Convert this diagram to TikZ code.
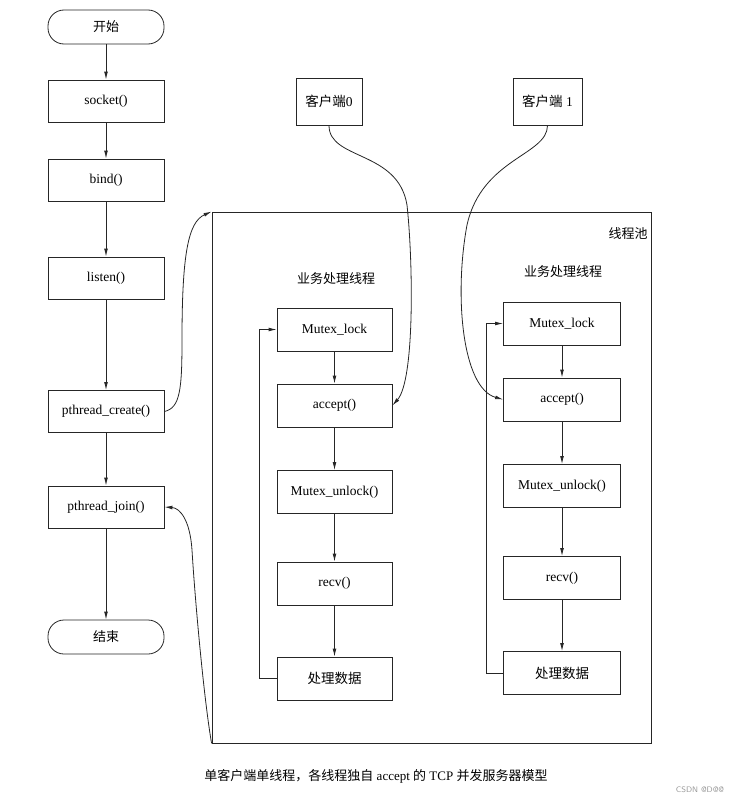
\documentclass[tikz,border=0pt]{standalone}
\usepackage{fontspec}
\setmainfont{Liberation Serif}
\newfontfamily\cjk{Noto Sans CJK SC}
\usepackage{tikz}
\usetikzlibrary{positioning,calc,arrows.meta}
\newcommand*{\zh}[1]{{\cjk #1}}

\begin{document}
\begin{tikzpicture}[x=1pt,y=-1pt,line width=0.8pt,draw=black!85,
  >={Latex[length=8pt,width=3.8pt]},
  box/.style={draw,rectangle,minimum width=116pt,minimum height=42pt,
              inner sep=0pt,font=\fontsize{13.5}{15}\selectfont},
  inbox/.style={box,minimum height=43pt},
  term/.style={box,rounded corners=16pt,minimum height=34pt,
               font=\fontsize{13}{15}\selectfont\cjk},
  client/.style={box,minimum height=47pt,font=\fontsize{13.5}{15}\selectfont},
  lbl/.style={font=\fontsize{13}{15}\selectfont\cjk}]
\useasboundingbox (0,0) rectangle (740,803);
% Main thread on the left
\node[term] (start) at (106,27) {开始};
\node[box] (sock) at (106,101) {socket()};
\node[box] (bind) at (106,180) {bind()};
\node[box] (lis) at (106,278) {listen()};
\node[box] (create) at (106,411.5) {pthread\_create()};
\node[box] (join) at (106,507) {pthread\_join()};
\node[term] (stop) at (106,637) {结束};
\draw[->] (start) -- (sock);
\draw[->] (sock) -- (bind);
\draw[->] (bind) -- (lis);
\draw[->] (lis) -- (create);
\draw[->] (create) -- (join);
\draw[->] (join) -- (stop);
% The thread pool
\node[draw,rectangle,minimum width=439pt,minimum height=531pt,inner sep=0pt]
  (pool) at (431.5,477.5) {};
\node[lbl] (poolname) at (628,234) {线程池};
% Clients
\node[client,minimum width=66pt] (cl0) at (329,101.5) {\zh{客户端}0};
\node[client,minimum width=69pt] (cl1) at (547.5,101.5) {\zh{客户端} 1};
% Worker thread 0
\node[lbl] (wname0) at (336,279) {业务处理线程};
\node[inbox,minimum width=115pt] (lock0) at (334.5,329.5) {Mutex\_lock};
\node[inbox,minimum width=115pt] (acc0) at (334.5,405.5) {accept()};
\node[inbox,minimum width=115pt] (unl0) at (334.5,492) {Mutex\_unlock()};
\node[inbox,minimum width=115pt] (recv0) at (334.5,583.5) {recv()};
\node[inbox,minimum width=115pt] (proc0) at (334.5,678.5) {\zh{处理数据}};
\draw[->] (lock0) -- (acc0);
\draw[->] (acc0) -- (unl0);
\draw[->] (unl0) -- (recv0);
\draw[->] (recv0) -- (proc0);
\draw[->] (proc0.west) -- ++(-17,0) |- (lock0.west);
% Worker thread 1
\node[lbl] (wname1) at (563,272) {业务处理线程};
\node[inbox,minimum width=117pt] (lock1) at (562,323.5) {Mutex\_lock};
\node[inbox,minimum width=117pt] (acc1) at (562,399.5) {accept()};
\node[inbox,minimum width=117pt] (unl1) at (562,486) {Mutex\_unlock()};
\node[inbox,minimum width=117pt] (recv1) at (562,578) {recv()};
\node[inbox,minimum width=117pt] (proc1) at (562,673) {\zh{处理数据}};
\draw[->] (lock1) -- (acc1);
\draw[->] (acc1) -- (unl1);
\draw[->] (unl1) -- (recv1);
\draw[->] (recv1) -- (proc1);
\draw[->] (proc1.west) -- ++(-17,0) |- (lock1.west);
% Curved links
\draw[->] (cl0.south) .. controls +(0,35) and (398,150) .. (407,205)
  .. controls (413,260) and (415,380) .. (acc0.east);
\draw[->] (cl1.south) .. controls +(0,30) and (482,158) .. (467,225)
  .. controls (454,295) and (462,388) .. (acc1.west);
\draw[->] (create.east) .. controls (180,408) and (182,390) .. (182,340)
  .. controls (182,255) and (188,222) .. (pool.north west);
\draw[->] (pool.south west) .. controls (204,700) and (195,600) .. (192,550)
  .. controls (190,520) and (180,508) .. (join.east);
% Caption
\node[font=\fontsize{13}{15}\selectfont] (caption) at (376,776)
  {\zh{单客户端单线程，各线程独自} accept \zh{的} TCP \zh{并发服务器模型}};
\node[font=\sffamily\fontsize{8}{9}\selectfont,text=black!40] (mark) at (700,790) {CSDN @D@@};
\end{tikzpicture}
\end{document}
